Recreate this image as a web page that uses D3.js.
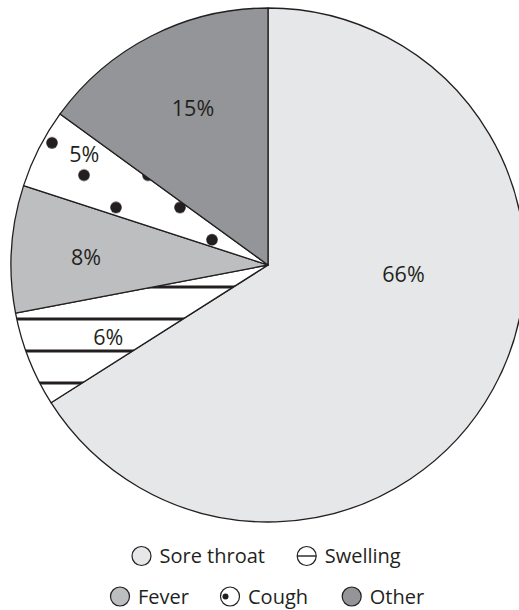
<!DOCTYPE html>
<html>
<head>
<meta charset="utf-8">
<script src="https://cdn.jsdelivr.net/npm/d3@7"></script>
<style>
  html, body { margin: 0; padding: 0; background: #fff; }
  svg { display: block; }
  text { font-family: "Open Sans", "DejaVu Sans", sans-serif; fill: #231f20; }
</style>
</head>
<body>
<svg id="chart" width="519" height="610"></svg>
<script>
// Symptom shares (percent), clockwise from 12 o'clock
const categories = ["Sore throat", "Swelling", "Fever", "Cough", "Other"];
const values = [66, 6, 8, 5, 15];
const valueLabels = ["66%", "6%", "8%", "5%", "15%"];

// Legend rows (category order inside each row)
const legendRows = [["Sore throat", "Swelling"], ["Fever", "Cough", "Other"]];

// ---- layout ----
const W = 519, H = 610;
const cx = 268, cy = 265, R = 257;
const ink = "#231f20";
const fills = {
  "Sore throat": "#e6e7e8",
  "Swelling": "url(#stripes)",
  "Fever": "#bcbec0",
  "Cough": "url(#dots)",
  "Other": "#939598"
};
// label anchor offsets from the pie centre, per slice
const labelOffsets = [[135.5, 16.5], [-159.7, 80], [-182, 0], [-183.7, -103.3], [-75, -149.3]];
// legend item centre x per row, and row centre lines
const legendX = [[141.5, 306.7], [120, 230, 351.7]];
const legendY = [556, 596.5];

const svg = d3.select("#chart");
const defs = svg.append("defs");

// horizontal stripes for "Swelling"
const stripes = defs.append("pattern")
  .attr("id", "stripes").attr("patternUnits", "userSpaceOnUse")
  .attr("width", 32).attr("height", 32);
stripes.append("rect").attr("width", 32).attr("height", 32).attr("fill", "#fff");
stripes.append("rect").attr("x", 0).attr("y", 20.5).attr("width", 32).attr("height", 3).attr("fill", ink);

// staggered dots for "Cough"
const dots = defs.append("pattern")
  .attr("id", "dots").attr("patternUnits", "userSpaceOnUse")
  .attr("width", 64).attr("height", 64.6);
dots.append("rect").attr("width", 64).attr("height", 64.6).attr("fill", "#fff");
dots.append("circle").attr("cx", 8).attr("cy", 39.3).attr("r", 5.8).attr("fill", ink);
dots.append("circle").attr("cx", 40).attr("cy", 7).attr("r", 5.8).attr("fill", ink);

const data = categories.map((c, i) => ({ cat: c, value: values[i], label: valueLabels[i], i }));

const pie = d3.pie().sort(null).value(d => d.value);
const arc = d3.arc().innerRadius(0).outerRadius(R);

const g = svg.append("g").attr("transform", `translate(${cx},${cy})`);

g.selectAll("path.slice")
  .data(pie(data))
  .join("path")
  .attr("class", "slice")
  .attr("d", arc)
  .attr("fill", d => fills[d.data.cat])
  .attr("stroke", ink)
  .attr("stroke-width", 1.3)
  .attr("stroke-linejoin", "round");

g.selectAll("text.val")
  .data(pie(data))
  .join("text")
  .attr("class", "val")
  .attr("x", d => labelOffsets[d.data.i][0])
  .attr("y", d => labelOffsets[d.data.i][1])
  .attr("text-anchor", "middle")
  .attr("font-size", 21.5)
  .text(d => d.data.label);

// ---- legend ----
const legend = svg.append("g");
legendRows.forEach((row, r) => {
  row.forEach((cat, k) => {
    const x = legendX[r][k], y = legendY[r];
    const item = legend.append("g").attr("transform", `translate(${x},${y})`);
    const solid = !(cat === "Swelling" || cat === "Cough");
    item.append("circle")
      .attr("r", 9.5)
      .attr("fill", solid ? fills[cat] : "#fff")
      .attr("stroke", ink)
      .attr("stroke-width", 1.2);
    if (cat === "Swelling") {
      item.append("line").attr("x1", -9.5).attr("x2", 9.5).attr("y1", 0).attr("y2", 0)
        .attr("stroke", ink).attr("stroke-width", 1.4);
    }
    if (cat === "Cough") {
      item.append("circle").attr("cx", -4.5).attr("cy", 0).attr("r", 3).attr("fill", ink);
    }
    item.append("text")
      .attr("x", 18)
      .attr("y", 7.2)
      .attr("font-size", 20)
      .text(cat);
  });
});
</script>
</body>
</html>
